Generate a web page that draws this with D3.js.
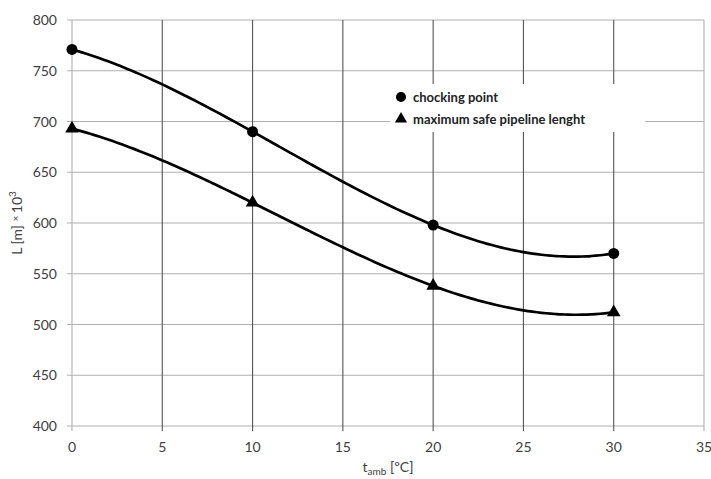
<!DOCTYPE html>
<html lang="en">
<head>
  <meta charset="UTF-8">
  <title>Pipeline length vs ambient temperature</title>
  <script src="https://d3js.org/d3.v7.min.js"></script>
  <style>
    body, html {
      margin: 0;
      padding: 0;
      overflow: hidden;
      background: #fff;
    }
    svg text {
      font-family: Lato, "Open Sans", sans-serif;
      fill: #404040;
    }
    .tick-label {
      font-size: 14px;
    }
  </style>
</head>
<body>
  <svg width="711" height="479"></svg>
  <script>
    // Data
    const temps = [0, 10, 20, 30];
    const chockingPoint = [771, 690, 598, 570];
    const maxSafeLength = [693, 620, 538, 512];
    const xTicks = [0, 5, 10, 15, 20, 25, 30, 35];
    const yTicks = [400, 450, 500, 550, 600, 650, 700, 750, 800];
    const legendLabels = ['chocking point', 'maximum safe pipeline lenght'];

    const svg = d3.select('svg');
    const margin = { left: 72, right: 7, top: 20, bottom: 53 };
    const width = 711, height = 479;

    const x = d3.scaleLinear().domain([0, 35]).range([margin.left, width - margin.right]);
    const y = d3.scaleLinear().domain([400, 800]).range([height - margin.bottom, margin.top]);

    // Least squares polynomial trendline (like the spreadsheet "poly, order 3")
    function polyFit(xs, ys, order) {
      const n = order + 1;
      const A = [];
      for (let r = 0; r < n; r++) {
        A.push([]);
        for (let c = 0; c < n; c++) A[r].push(d3.sum(xs, (v) => Math.pow(v, r + c)));
        A[r].push(d3.sum(xs, (v, i) => ys[i] * Math.pow(v, r)));
      }
      // gaussian elimination
      for (let i = 0; i < n; i++) {
        let p = i;
        for (let k = i + 1; k < n; k++) if (Math.abs(A[k][i]) > Math.abs(A[p][i])) p = k;
        [A[i], A[p]] = [A[p], A[i]];
        for (let k = i + 1; k < n; k++) {
          const f = A[k][i] / A[i][i];
          for (let j = i; j <= n; j++) A[k][j] -= f * A[i][j];
        }
      }
      const coef = new Array(n).fill(0);
      for (let i = n - 1; i >= 0; i--) {
        let s = A[i][n];
        for (let j = i + 1; j < n; j++) s -= A[i][j] * coef[j];
        coef[i] = s / A[i][i];
      }
      return (v) => coef.reduce((acc, c, k) => acc + c * Math.pow(v, k), 0);
    }

    // Legend box area (gridlines are hidden behind it)
    const legendBox = { x0: 390, x1: 645, y0: 84, y1: 132 };

    const grid = svg.append('g');

    // Horizontal gridlines
    yTicks.forEach((t) => {
      grid.append('line')
        .attr('x1', x(0) - 5).attr('x2', x(35))
        .attr('y1', y(t)).attr('y2', y(t))
        .attr('stroke', '#b0b0b0').attr('stroke-width', 1.2);
    });

    // Vertical gridlines
    xTicks.forEach((t) => {
      grid.append('line')
        .attr('x1', x(t)).attr('x2', x(t))
        .attr('y1', y(800)).attr('y2', y(400) + 5)
        .attr('stroke', t === 0 || t === 35 ? '#b0b0b0' : '#555')
        .attr('stroke-width', 1.1);
    });

    // Legend background
    svg.append('rect')
      .attr('x', legendBox.x0).attr('y', legendBox.y0)
      .attr('width', legendBox.x1 - legendBox.x0)
      .attr('height', legendBox.y1 - legendBox.y0)
      .attr('fill', '#fff');

    // Tick labels
    svg.append('g').selectAll('text')
      .data(xTicks)
      .join('text')
      .attr('class', 'tick-label')
      .attr('x', (d) => x(d))
      .attr('y', y(400) + 26)
      .attr('text-anchor', 'middle')
      .text((d) => d);

    svg.append('g').selectAll('text')
      .data(yTicks)
      .join('text')
      .attr('class', 'tick-label')
      .attr('x', x(0) - 15)
      .attr('y', (d) => y(d) + 5)
      .attr('text-anchor', 'end')
      .text((d) => d);

    // Axis titles
    const xt = svg.append('text')
      .attr('x', (x(0) + x(35)) / 2)
      .attr('y', 472)
      .attr('text-anchor', 'middle')
      .style('font-size', '14px');
    xt.append('tspan').text('t');
    xt.append('tspan').attr('dy', 3).style('font-size', '10px').text('amb');
    xt.append('tspan').attr('dy', -3).text('  [ºC]');

    const yt = svg.append('text')
      .attr('transform', `translate(22, ${(y(400) + y(800)) / 2}) rotate(-90)`)
      .attr('text-anchor', 'middle')
      .style('font-size', '14px');
    yt.append('tspan').text('L  [m] ');
    yt.append('tspan').style('font-size', '10px').attr('dy', -3).text('× ');
    yt.append('tspan').attr('dy', 3).text('10');
    yt.append('tspan').style('font-size', '10px').attr('dy', -6).text('3');

    // Series
    const line = d3.line()
      .x((d) => x(d[0]))
      .y((d) => y(d[1]))
      .curve(d3.curveBasis);

    const series = [
      { values: chockingPoint, symbol: d3.symbolCircle, size: 95 },
      { values: maxSafeLength, symbol: d3.symbolTriangle, size: 80 }
    ];

    series.forEach((s) => {
      const pts = temps.map((t, i) => [t, s.values[i]]);
      const fit = polyFit(temps, s.values, 3);
      const samples = d3.range(temps[0], temps[temps.length - 1] + 0.01, 0.25).map((t) => [t, fit(t)]);

      svg.append('path')
        .datum(samples)
        .attr('d', line)
        .attr('fill', 'none')
        .attr('stroke', '#000')
        .attr('stroke-width', 2.7);

      svg.append('g').selectAll('path')
        .data(pts)
        .join('path')
        .attr('transform', (d) => `translate(${x(d[0])},${y(d[1])})`)
        .attr('d', d3.symbol().type(s.symbol).size(s.size))
        .attr('fill', '#000');
    });

    // Legend
    const legend = svg.append('g');
    series.forEach((s, i) => {
      const ly = 97 + i * 22;
      legend.append('path')
        .attr('transform', `translate(401,${ly})`)
        .attr('d', d3.symbol().type(s.symbol).size(s.size - 15))
        .attr('fill', '#000');
      legend.append('text')
        .attr('x', 413)
        .attr('y', ly + 4.5)
        .style('font-size', '13px')
        .style('font-weight', 'bold')
        .style('fill', '#222')
        .text(legendLabels[i]);
    });
  </script>
</body>
</html>
